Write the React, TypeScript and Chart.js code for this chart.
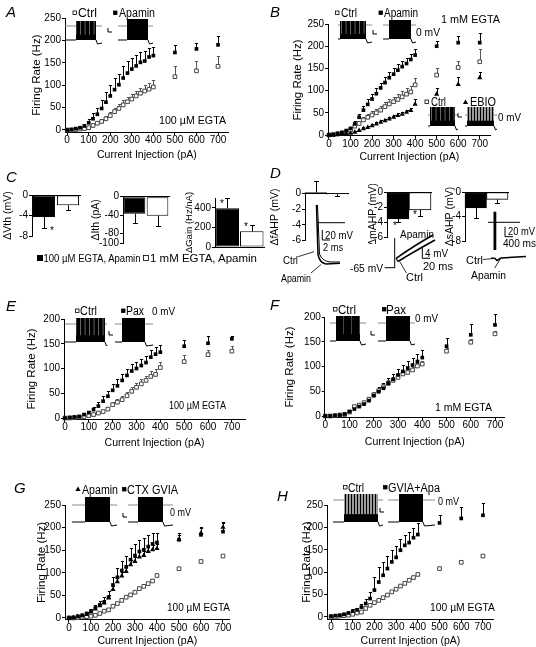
import React, { useEffect, useRef } from "react";
import { Chart, registerables } from "chart.js";

Chart.register(...registerables);

const FONT = "'Liberation Sans', Arial, Helvetica, sans-serif";

// ---------- data ----------
const currents = [0, 20, 40, 60, 80, 100, 120, 140, 160, 180, 200, 220, 240, 260, 280, 300, 320, 340, 360, 380, 400, 500, 600, 700];
const xTicks = [0, 100, 200, 300, 400, 500, 600, 700];
const yTicks250 = [0, 50, 100, 150, 200, 250];
const yTicks200 = [0, 50, 100, 150, 200];

// A: 100 uM EGTA, Ctrl vs Apamin
const aCtrl = [0, 0, 1, 2, 3, 5, 10, 15, 19, 25, 32, 41, 48, 56, 63, 69, 76, 82, 87, 91, 96, 119, 132, 142];
const aCtrlErr = [0, 0, 0, 1, 1, 2, 3, 4, 5, 6, 7, 8, 9, 10, 10, 11, 12, 12, 13, 14, 15, 23, 23, 23];
const aApa = [0, 1, 3, 5, 9, 16, 25, 35, 48, 62, 76, 90, 101, 116, 127, 136, 143, 151, 154, 163, 166, 173, 181, 190];
const aApaErr = [0, 1, 2, 3, 5, 8, 12, 15, 18, 22, 24, 25, 25, 26, 26, 25, 24, 23, 22, 21, 20, 16, 14, 19];

// B: 1 mM EGTA, Ctrl / Apamin / EBIO
const bCtrl = [0, 1, 2, 4, 6, 11, 20, 26, 34, 40, 45, 50, 56, 64, 70, 75, 80, 86, 92, 97, 113, 135, 152, 165];
const bCtrlErr = [0, 0, 1, 1, 2, 3, 4, 5, 6, 7, 8, 8, 9, 10, 10, 11, 12, 12, 13, 14, 15, 15, 15, 28];
const bApa = [0, 1, 4, 6, 10, 15, 25, 40, 56, 69, 81, 93, 106, 118, 129, 137, 146, 154, 161, 170, 180, 200, 208, 208];
const bApaErr = [0, 1, 1, 2, 3, 4, 6, 8, 10, 11, 12, 12, 12, 13, 13, 13, 13, 13, 13, 13, 13, 12, 15, 21];
const bEbio = [0, 0, 1, 2, 3, 4, 6, 10, 14, 17, 21, 25, 29, 32, 36, 40, 44, 47, 51, 55, 69, 92, 114, 129];
const bEbioErr = [0, 0, 0, 1, 1, 1, 2, 2, 3, 3, 3, 4, 4, 4, 4, 5, 5, 5, 6, 6, 12, 13, 16, 13];

// C: bar summaries
const barGroups = ["100 µM EGTA, Apamin", "1 mM EGTA, Apamin"];
const cVth = [-4.3, -2.0];
const cVthErr = [2.1, 0.9];
const cIth = [-37, -41];
const cIthErr = [20, 22];
const cGain = [395, 160];
const cGainErr = [105, 65];

// D: AHP changes
const dfAHP = [0.12, -0.1];
const dfAHPErr = [1.5, 0.25];
const dmAHP = [-3.6, -2.4];
const dmAHPErr = [0.4, 0.8];
const dsAHP = [-2.6, -1.2];
const dsAHPErr = [1.6, 0.6];

// E: 100 uM EGTA, Ctrl vs Pax
const eCtrl = [0, 0, 1, 2, 3, 5, 7, 10, 13, 18, 27, 32, 37, 45, 54, 62, 69, 76, 84, 88, 102, 114, 128, 135];
const eCtrlErr = [0, 0, 0, 1, 1, 2, 3, 3, 4, 5, 6, 6, 7, 7, 8, 8, 9, 9, 10, 10, 12, 14, 10, 10];
const ePax = [0, 1, 2, 3, 7, 11, 17, 24, 34, 44, 56, 65, 76, 86, 95, 100, 106, 112, 123, 129, 133, 145, 151, 160];
const ePaxErr = [0, 0, 1, 2, 3, 4, 6, 8, 10, 11, 12, 13, 13, 14, 14, 14, 14, 14, 14, 14, 15, 13, 14, 5];

// F: 1 mM EGTA, Ctrl vs Pax
const fCtrl = [0, 0, 1, 2, 3, 8, 19, 22, 27, 34, 43, 51, 59, 66, 72, 78, 85, 88, 93, 101, 105, 131, 149, 166];
const fCtrlErr = [0, 0, 0, 1, 1, 2, 3, 4, 4, 5, 5, 5, 6, 6, 6, 6, 6, 6, 6, 6, 6, 6, 6, 6];
const fPax = [0, 0, 1, 2, 4, 9, 14, 19, 24, 31, 41, 49, 56, 66, 74, 83, 90, 97, 103, 110, 118, 141, 164, 184];
const fPaxErr = [0, 0, 1, 1, 2, 3, 4, 5, 6, 7, 8, 9, 10, 10, 11, 12, 13, 14, 14, 15, 16, 16, 22, 23];

// G: 100 uM EGTA, Ctrl / Apamin / CTX GVIA
const gCtrl = [0, 0, 1, 2, 3, 4, 6, 10, 15, 18, 26, 32, 39, 46, 51, 57, 65, 70, 76, 82, 94, 109, 125, 137];
const gApa = [0, 1, 3, 5, 8, 13, 20, 27, 33, 44, 63, 80, 93, 103, 118, 125, 135, 138, 147, 151, 154, 174, 188, 201];
const gApaErr = [0, 1, 1, 2, 2, 3, 4, 5, 6, 7, 8, 9, 9, 10, 10, 10, 10, 10, 10, 10, 10, 10, 12, 9];
const gCtx = [0, 1, 4, 6, 10, 15, 22, 29, 35, 46, 73, 90, 105, 113, 129, 138, 147, 151, 158, 164, 167, 173, 184, 191];
const gCtxErr = [0, 1, 2, 3, 4, 5, 7, 9, 11, 14, 17, 20, 22, 24, 25, 26, 26, 26, 26, 25, 21, 16, 18, 22];

// H: 100 uM EGTA, Ctrl vs GVIA+Apa
const hCtrl = [0, 0, 2, 3, 4, 6, 9, 11, 19, 26, 32, 37, 43, 49, 56, 62, 69, 75, 82, 88, 95, 108, 122, 136];
const hApa = [2, 3, 4, 6, 9, 13, 16, 22, 30, 41, 60, 78, 93, 108, 123, 133, 149, 160, 166, 177, 184, 210, 220, 227];
const hApaErr = [0, 1, 1, 2, 3, 4, 5, 7, 10, 15, 30, 34, 30, 28, 26, 25, 25, 24, 23, 22, 25, 18, 25, 28];

// ---------- error bar plugin ----------
function drawErrors(chart: any, after: boolean) {
  const isBar = chart.config.type === "bar";
  if (isBar !== after) return;
  const ctx = chart.ctx;
  chart.data.datasets.forEach((ds: any, i: number) => {
    if (!ds.errors) return;
    const meta = chart.getDatasetMeta(i);
    const ys = chart.scales[meta.yAxisID];
    ctx.save();
    ctx.strokeStyle = ds.errorColor || "#000";
    ctx.lineWidth = 1;
    const cap = isBar ? 2.5 : 1.6;
    meta.data.forEach((el: any, j: number) => {
      const e = ds.errors[j];
      if (!e) return;
      const raw = ds.data[j];
      const v = typeof raw === "number" ? raw : raw.y;
      const dir = v < 0 ? -1 : 1;
      const x = Math.round(el.x) + 0.5;
      const y0 = ys.getPixelForValue(v);
      const y1 = Math.round(ys.getPixelForValue(v + dir * e)) + 0.5;
      ctx.beginPath();
      ctx.moveTo(x, y0);
      ctx.lineTo(x, y1);
      ctx.moveTo(x - cap, y1);
      ctx.lineTo(x + cap, y1);
      ctx.stroke();
    });
    ctx.restore();
  });
}

const errorBars = {
  id: "errorBars",
  beforeDatasetsDraw(chart: any) {
    drawErrors(chart, false);
  },
  afterDatasetsDraw(chart: any) {
    drawErrors(chart, true);
  },
};

// ---------- chart builders ----------
const TICK_FONT = { family: FONT, size: 10 };
const X_TITLE = 10.5;
const Y_TITLE = 11.5;

function markerStyle(m: string) {
  if (m === "filled") return { pointStyle: "rect", pointRadius: 2.6, backgroundColor: "#000", borderColor: "#000", borderWidth: 0, errorColor: "#000" };
  if (m === "triangle") return { pointStyle: "triangle", pointRadius: 3, backgroundColor: "#000", borderColor: "#000", borderWidth: 0, errorColor: "#000" };
  return { pointStyle: "rect", pointRadius: 2.6, backgroundColor: "#fff", borderColor: "#444", borderWidth: 1, errorColor: "#555" };
}

function scatterChart(s: any) {
  const lhY = Y_TITLE * 1.2;
  const lhX = X_TITLE * 1.2;
  const left = Math.round(s.yTitleX - lhY / 2);
  const top = Math.round(s.area.t - 8);
  const right = Math.round(s.area.r + 10);
  const bottom = Math.round(s.xTitleY + lhX / 2);
  const yW = s.area.l - left;
  const xH = bottom - s.area.b;
  const make = () => ({
    type: "scatter",
    data: {
      datasets: s.series.map((sr: any) => ({
        data: currents.map((x, i) => ({ x, y: sr.values[i] })),
        errors: sr.errors,
        clip: false,
        ...markerStyle(sr.marker),
      })),
    },
    options: {
      responsive: false,
      animation: false,
      events: [],
      layout: { padding: { left: 0, top: s.area.t - top, right: right - s.area.r, bottom: 0 } },
      plugins: { legend: { display: false }, tooltip: { enabled: false } },
      scales: {
        x: {
          type: "linear",
          min: s.xMin,
          max: s.xMax,
          afterBuildTicks: (sc: any) => {
            sc.ticks = xTicks.map((v) => ({ value: v }));
          },
          afterFit: (sc: any) => {
            sc.height = xH;
          },
          ticks: { autoSkip: false, maxRotation: 0, color: "#000", font: TICK_FONT, padding: -1 },
          grid: { drawOnChartArea: false, drawTicks: true, tickLength: 3, color: "#000" },
          border: { color: "#000", width: 1 },
          title: { display: true, text: "Current Injection (pA)", color: "#000", font: { family: FONT, size: X_TITLE }, padding: 0 },
        },
        y: {
          type: "linear",
          min: s.yMin,
          max: s.yMax,
          afterBuildTicks: (sc: any) => {
            sc.ticks = s.yTicks.map((v: number) => ({ value: v }));
          },
          afterFit: (sc: any) => {
            sc.width = yW;
          },
          ticks: { color: "#000", font: TICK_FONT, padding: 1 },
          grid: { drawOnChartArea: false, drawTicks: true, tickLength: 3, color: "#000" },
          border: { color: "#000", width: 1 },
          title: { display: true, text: "Firing Rate (Hz)", color: "#000", font: { family: FONT, size: Y_TITLE }, padding: 0 },
        },
      },
    },
    plugins: [errorBars],
  });
  return { left, top, width: right - left, height: bottom - top, make };
}

function barChart(s: any) {
  const titleSize = s.titleSize || 10.5;
  const lhY = titleSize * 1.2;
  const left = Math.round(s.yTitleX - lhY / 2);
  const top = Math.round(s.area.t - (s.padTop || 8));
  const right = Math.round(s.area.r + 4);
  const bottom = Math.round(s.area.b + 7);
  const yW = s.area.l - left;
  const make = () => ({
    type: "bar",
    data: {
      labels: barGroups,
      datasets: [
        {
          data: s.values,
          errors: s.errors,
          backgroundColor: ["#000", "#fff"],
          borderColor: "#000",
          borderWidth: 1,
          borderSkipped: false,
          barPercentage: s.barPct,
          categoryPercentage: 1,
          clip: false,
        },
      ],
    },
    options: {
      responsive: false,
      animation: false,
      events: [],
      layout: { padding: { left: 0, top: s.area.t - top, right: right - s.area.r, bottom: bottom - s.area.b } },
      plugins: { legend: { display: false }, tooltip: { enabled: false } },
      scales: {
        x: {
          type: "category",
          position: s.xPos,
          afterFit: (sc: any) => {
            sc.height = 0;
          },
          ticks: { display: false },
          grid: { display: false },
          border: { color: "#000", width: 1 },
        },
        y: {
          type: "linear",
          min: s.yMin,
          max: s.yMax,
          afterBuildTicks: (sc: any) => {
            sc.ticks = s.yTicks.map((v: number) => ({ value: v }));
          },
          afterFit: (sc: any) => {
            sc.width = yW;
          },
          ticks: { color: "#000", font: TICK_FONT, padding: 1 },
          grid: { drawOnChartArea: false, drawTicks: true, tickLength: 3, color: "#000" },
          border: { color: "#000", width: 1 },
          title: { display: true, text: s.title, color: "#000", font: { family: FONT, size: titleSize }, padding: 0 },
        },
      },
    },
    plugins: [errorBars],
  });
  return { left, top, width: right - left, height: bottom - top, make };
}

// ---------- panel specs ----------
const panels = [
  scatterChart({
    area: { l: 65, r: 228.8, t: 18, b: 132.2 }, xMin: -10, xMax: 750, yMin: -5, yMax: 250, yTicks: yTicks250, yTitleX: 37, xTitleY: 155,
    series: [{ values: aApa, errors: aApaErr, marker: "filled" }, { values: aCtrl, errors: aCtrlErr, marker: "open" }],
  }),
  scatterChart({
    area: { l: 328.1, r: 490.5, t: 24, b: 135.9 }, xMin: -4, xMax: 750, yMin: -2, yMax: 250, yTicks: yTicks250, yTitleX: 298, xTitleY: 157,
    series: [
      { values: bApa, errors: bApaErr, marker: "filled" },
      { values: bEbio, errors: bEbioErr, marker: "triangle" },
      { values: bCtrl, errors: bCtrlErr, marker: "open" },
    ],
  }),
  barChart({ area: { l: 32, r: 80, t: 195, b: 236 }, yMin: -8, yMax: 0, yTicks: [0, -2, -4, -6, -8], yTitleX: 8, title: "ΔVth (mV)", values: cVth, errors: cVthErr, xPos: "top", barPct: 0.92 }),
  barChart({ area: { l: 123, r: 169, t: 196.7, b: 243.3 }, yMin: -100, yMax: 0, yTicks: [0, -40, -80, -100], yTitleX: 96, title: "ΔIth (pA)", values: cIth, errors: cIthErr, xPos: "top", barPct: 0.94 }),
  barChart({ area: { l: 215, r: 264, t: 198, b: 247 }, yMin: 0, yMax: 500, yTicks: [0, 100, 200, 300, 400, 500], yTitleX: 190, title: "ΔGain (Hz/nA)", titleSize: 9.5, values: cGain, errors: cGainErr, xPos: "bottom", barPct: 0.96 }),
  barChart({ area: { l: 305, r: 348, t: 193.5, b: 240.5 }, yMin: -6, yMax: 0, yTicks: [0, -2, -4, -6], yTitleX: 275, title: "ΔfAHP (mV)", values: dfAHP, errors: dfAHPErr, xPos: "top", barPct: 1, padTop: 14 }),
  barChart({ area: { l: 387, r: 431, t: 192, b: 237 }, yMin: -6, yMax: 0, yTicks: [0, -2, -4, -6], yTitleX: 373, title: "ΔmAHP (mV)", values: dmAHP, errors: dmAHPErr, xPos: "top", barPct: 1 }),
  barChart({ area: { l: 465, r: 508, t: 192, b: 241 }, yMin: -8, yMax: 0, yTicks: [0, -2, -4, -6, -8], yTitleX: 450, title: "ΔsAHP (mV)", values: dsAHP, errors: dsAHPErr, xPos: "top", barPct: 1 }),
  scatterChart({
    area: { l: 64, r: 245, t: 319, b: 419 }, xMin: -4, xMax: 755, yMin: -2, yMax: 200, yTicks: yTicks200, yTitleX: 32, xTitleY: 443,
    series: [{ values: ePax, errors: ePaxErr, marker: "filled" }, { values: eCtrl, errors: eCtrlErr, marker: "open" }],
  }),
  scatterChart({
    area: { l: 324.8, r: 504.7, t: 317, b: 417 }, xMin: -2, xMax: 740, yMin: -2, yMax: 200, yTicks: yTicks200, yTitleX: 290, xTitleY: 442,
    series: [{ values: fPax, errors: fPaxErr, marker: "filled" }, { values: fCtrl, errors: fCtrlErr, marker: "open" }],
  }),
  scatterChart({
    area: { l: 65, r: 229.6, t: 505, b: 619.8 }, xMin: -18, xMax: 730, yMin: -4, yMax: 250, yTicks: yTicks250, yTitleX: 42, xTitleY: 641,
    series: [
      { values: gCtx, errors: gCtxErr, marker: "filled" },
      { values: gApa, errors: gApaErr, marker: "triangle" },
      { values: gCtrl, marker: "open" },
    ],
  }),
  scatterChart({
    area: { l: 327.1, r: 493.8, t: 505, b: 619.2 }, xMin: -18, xMax: 750, yMin: -5, yMax: 250, yTicks: yTicks250, yTitleX: 307, xTitleY: 641,
    series: [{ values: hApa, errors: hApaErr, marker: "filled" }, { values: hCtrl, marker: "open" }],
  }),
];

function ChartCanvas({ left, top, width, height, make }: any) {
  const ref = useRef<HTMLCanvasElement>(null);
  useEffect(() => {
    const chart = new Chart(ref.current as HTMLCanvasElement, make() as any);
    return () => chart.destroy();
  }, []);
  return <canvas ref={ref} width={width} height={height} style={{ position: "absolute", left, top, width, height }} />;
}

// ---------- overlay (insets, labels) ----------
function T({ x, y, s = 11, len, italic, children }: any) {
  return (
    <text x={x} y={y} fontSize={s} fontFamily={FONT} fontStyle={italic ? "italic" : undefined} textLength={len} lengthAdjust={len ? "spacingAndGlyphs" : undefined} fill="#000">
      {children}
    </text>
  );
}

function Sq({ x, y, filled }: any) {
  return <rect x={x + 0.5} y={y + 0.5} width={3.5} height={3.5} fill={filled ? "#000" : "#fff"} stroke="#000" strokeWidth={0.8} />;
}

function Tri({ x, y }: any) {
  return <polygon points={`${x},${y - 2.5} ${x + 2.6},${y + 2} ${x - 2.6},${y + 2}`} fill="#000" />;
}

function Inset({ x0, x1, bx0, bx1, top, base, zero, kind }: any) {
  const fill = kind === "solid" ? "#000" : kind === "gray" ? "url(#grayTrain)" : kind === "dense" ? "url(#denseTrain)" : "url(#train)";
  const h = base - top;
  return (
    <g>
      <line x1={x0} y1={zero} x2={x1} y2={zero} stroke="#8a8a8a" strokeWidth={1} />
      <path d={`M${x0},${base} H${bx0} M${bx1},${base} L${bx1 + 1.5},${base + 4} L${x1},${base + 3}`} stroke="#000" strokeWidth={1} fill="none" />
      <rect x={bx0} y={top} width={bx1 - bx0} height={h} fill={fill} />
      <rect x={bx0} y={base - h * 0.28} width={bx1 - bx0} height={h * 0.28} fill="#000" />
    </g>
  );
}

function ScaleL({ x, y }: any) {
  return <path d={`M${x},${y} v4 h4`} stroke="#000" strokeWidth={1} fill="none" />;
}

const line = (d: string, w = 1) => <path d={d} stroke="#000" strokeWidth={w} fill="none" />;

function Overlay() {
  return (
    <svg width={536} height={647} style={{ position: "absolute", left: 0, top: 0 }}>
      <defs>
        <pattern id="train" width="4.5" height="60" patternUnits="userSpaceOnUse">
          <rect width="4.5" height="60" fill="#000" />
          <rect x="3.6" width="0.7" height="60" fill="#8c8c8c" />
        </pattern>
        <pattern id="denseTrain" width="8" height="60" patternUnits="userSpaceOnUse">
          <rect width="8" height="60" fill="#000" />
          <rect x="7" width="0.6" height="60" fill="#777" />
        </pattern>
        <pattern id="grayTrain" width="3" height="60" patternUnits="userSpaceOnUse">
          <rect width="3" height="60" fill="#9a9a9a" />
          <rect x="0" width="1" height="60" fill="#000" />
        </pattern>
      </defs>

      {/* panel letters */}
      <T x={6} y={17} s={15} italic>A</T>
      <T x={270} y={17} s={15} italic>B</T>
      <T x={6} y={182} s={15} italic>C</T>
      <T x={270} y={178} s={15} italic>D</T>
      <T x={6} y={311} s={15} italic>E</T>
      <T x={270} y={310} s={15} italic>F</T>
      <T x={14} y={493} s={15} italic>G</T>
      <T x={277} y={501} s={15} italic>H</T>

      {/* A */}
      <Sq x={72.5} y={10.5} />
      <T x={78} y={17} s={12} len={19}>Ctrl</T>
      <Sq x={113} y={10.5} filled />
      <T x={119} y={17} s={12} len={36}>Apamin</T>
      <Inset x0={65} x1={102} bx0={76} bx1={96} top={21} base={40} zero={26} kind="striped" />
      <Inset x0={118} x1={153} bx0={127} bx1={148} top={19} base={40} zero={26} kind="solid" />
      <ScaleL x={108} y={28} />
      <T x={159} y={124} s={11} len={67}>100 µM EGTA</T>

      {/* B */}
      <Sq x={335} y={10.5} />
      <T x={341} y={17} s={12} len={16}>Ctrl</T>
      <Sq x={378.5} y={10.5} filled />
      <T x={384} y={17} s={12} len={34}>Apamin</T>
      <Inset x0={338} x1={372} bx0={340} bx1={366} top={21} base={39} zero={25} kind="striped" />
      <Inset x0={383} x1={416} bx0={389} bx1={411} top={20} base={39} zero={25} kind="solid" />
      <T x={416} y={36} s={11} len={24}>0 mV</T>
      <ScaleL x={373} y={30} />
      <T x={441} y={23} s={11} len={59}>1 mM EGTA</T>
      <Inset x0={428} x1={458} bx0={430} bx1={455} top={107} base={126} zero={115} kind="striped" />
      <Inset x0={465} x1={497} bx0={467} bx1={494} top={107} base={126} zero={115} kind="gray" />
      <Sq x={424.5} y={99.5} />
      <T x={431} y={106} s={12} len={15}>Ctrl</T>
      <Tri x={465.5} y={102} />
      <T x={470} y={106} s={12} len={26}>EBIO</T>
      <T x={498} y={121} s={11} len={23}>0 mV</T>
      <ScaleL x={458} y={113} />

      {/* C */}
      <T x={50} y={234} s={10}>*</T>
      <T x={220} y={207} s={10}>*</T>
      <T x={244} y={230} s={10}>*</T>
      <rect x={37} y={255} width={6} height={6} fill="#000" />
      <T x={43.5} y={262} s={11} len={97}>100 µM EGTA, Apamin</T>
      <rect x={143.5} y={255.5} width={5} height={5} fill="#fff" stroke="#000" strokeWidth={0.8} />
      <T x={150} y={262} s={11} len={107}>1 mM EGTA, Apamin</T>

      {/* D */}
      <T x={393} y={229} s={10}>*</T>
      <T x={413} y={218} s={10}>*</T>
      {line("M316.7,222.7 H345")}
      {line("M316.5,205 L318,255 Q320,263 326,264 L340,263.3", 1.5)}
      {line("M317.5,205 L319.5,254 Q322,261 330,262 L340,262")}
      {line("M322.3,230 V240 H330")}
      <T x={325} y={238.5} s={11} len={28}>20 mV</T>
      <T x={323} y={250.5} s={11} len={20}>2 ms</T>
      <T x={283} y={264} s={11} len={15}>Ctrl</T>
      {line("M298,256.7 L314,251.7", 0.8)}
      <T x={281} y={282} s={11} len={30}>Apamin</T>
      {line("M311,273 L321,264.5", 0.8)}

      {line("M394.7,238 V268.3")}
      {line("M384.7,267.7 H394")}
      {line("M396,258.5 Q412,247 433,235", 1.6)}
      {line("M398,261.5 Q415,251 435,240", 1.6)}
      {line("M396,258.5 L398,261.5", 1.2)}
      <T x={400} y={238} s={11} len={34}>Apamin</T>
      <T x={350} y={271.5} s={11} len={33}>-65 mV</T>
      <T x={406} y={280.5} s={11} len={17}>Ctrl</T>
      {line("M400,262 L406.3,273", 0.8)}
      {line("M422.3,247.7 V258.3 H430")}
      <T x={425} y={257} s={11} len={23}>4 mV</T>
      <T x={423} y={269.5} s={11} len={30}>20 ms</T>

      <rect x={493.5} y={211.7} width={2.8} height={38.3} fill="#000" />
      {line("M488,222.3 H520")}
      {line("M491,258.3 L494.7,258.3 L497,260.5 L501,258 L526,256.5", 1.5)}
      {line("M505,226.7 V236.7 H513")}
      <T x={508} y={235} s={11} len={27}>20 mV</T>
      <T x={503} y={247} s={11} len={33}>400 ms</T>
      <T x={466} y={264} s={11} len={17}>Ctrl</T>
      {line("M483,259.5 L494,258.5", 0.8)}
      <T x={471} y={279} s={11} len={35}>Apamin</T>
      {line("M494.7,268 L500,259.5", 0.8)}

      {/* E */}
      <Sq x={75} y={308.5} />
      <T x={80} y={315} s={12} len={17}>Ctrl</T>
      <Sq x={121} y={308.5} filled />
      <T x={126} y={315} s={12} len={18}>Pax</T>
      <T x={152} y={315} s={11} len={23}>0 mV</T>
      <Inset x0={65} x1={107} bx0={76} bx1={105} top={318} base={342} zero={324} kind="striped" />
      <Inset x0={115} x1={153} bx0={122} bx1={145} top={318} base={342} zero={324} kind="solid" />
      <ScaleL x={109} y={331} />
      <T x={169} y={409} s={11} len={57}>100 µM EGTA</T>

      {/* F */}
      <Sq x={333} y={307} />
      <T x={338} y={314} s={12} len={18}>Ctrl</T>
      <Sq x={382} y={307} filled />
      <T x={386} y={314} s={12} len={20}>Pax</T>
      <T x={415} y={322} s={11} len={23}>0 mV</T>
      <Inset x0={330} x1={366} bx0={336} bx1={360} top={316} base={341} zero={323} kind="dense" />
      <Inset x0={378} x1={415} bx0={386} bx1={410} top={316} base={341} zero={323} kind="solid" />
      <ScaleL x={371} y={331} />
      <T x={435} y={411} s={11} len={57}>1 mM EGTA</T>

      {/* G */}
      <Tri x={78} y={489} />
      <T x={82} y={494} s={12} len={36}>Apamin</T>
      <Sq x={122} y={487} filled />
      <T x={127} y={494} s={12} len={51}>CTX GVIA</T>
      <T x={170} y={516} s={11} len={21}>0 mV</T>
      <Inset x0={72} x1={117} bx0={85} bx1={110} top={497} base={522} zero={505} kind="solid" />
      <Inset x0={128} x1={173} bx0={138} bx1={163} top={497} base={522} zero={505} kind="solid" />
      <ScaleL x={123} y={513} />
      <T x={167} y={611} s={11} len={63}>100 µM EGTA</T>

      {/* H */}
      <Sq x={343} y={485} />
      <T x={348} y={492} s={12} len={16}>Ctrl</T>
      <Sq x={383} y={485} filled />
      <T x={388} y={492} s={12} len={52}>GVIA+Apa</T>
      <T x={438} y={505} s={11} len={21}>0 mV</T>
      <Inset x0={333} x1={383} bx0={344} bx1={378} top={494} base={522} zero={500} kind="gray" />
      <Inset x0={388} x1={435} bx0={399} bx1={423} top={494} base={522} zero={500} kind="solid" />
      <ScaleL x={380} y={508} />
      <T x={430} y={611} s={11} len={65}>100 µM EGTA</T>
    </svg>
  );
}

export default function App() {
  return (
    <div style={{ position: "absolute", left: 0, top: 0, width: 536, height: 647, overflow: "hidden", background: "#fff" }}>
      {panels.map((p, i) => (
        <ChartCanvas key={i} {...p} />
      ))}
      <Overlay />
    </div>
  );
}
